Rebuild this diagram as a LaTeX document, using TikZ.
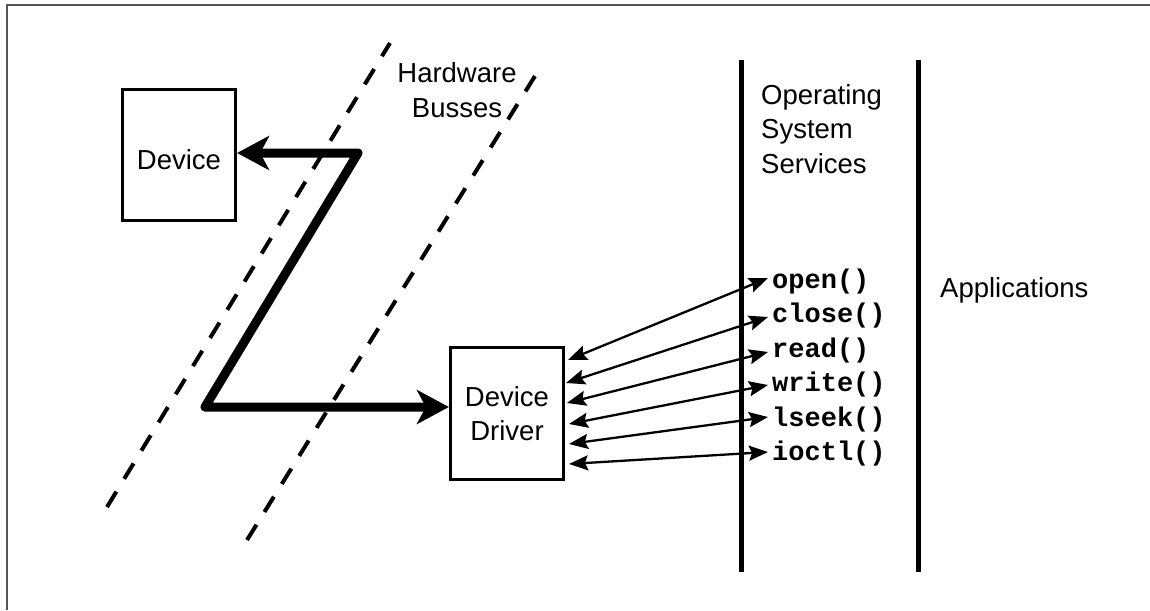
\documentclass[tikz,border=0pt]{standalone}
\usepackage{fontspec}
\setmainfont{Liberation Sans}
\newfontfamily\codefont{Liberation Mono}
\usetikzlibrary{arrows.meta}
\definecolor{framegray}{HTML}{555555}
\begin{document}
\begin{tikzpicture}[x=1pt,y=-1pt,
  box/.style={draw, line width=3.2pt, minimum width=113pt, minimum height=131pt, inner sep=0pt},
  txt/.style={font=\fontsize{27.5}{34.5}\selectfont, inner sep=0pt, align=left},
  code/.style={font=\codefont\bfseries\fontsize{27}{34}\selectfont, inner sep=0pt, anchor=base west},
  bus/.style={line width=4pt, dash pattern=on 18pt off 15pt},
  wall/.style={line width=5pt},
  bigarrow/.style={line width=9pt, line join=round, {Stealth[length=32pt,width=34pt,inset=9pt]}-{Stealth[length=32pt,width=34pt,inset=9pt]}},
  call/.style={line width=2.3pt, {Stealth[length=19pt,width=15pt,inset=3pt]}-{Stealth[length=19pt,width=15pt,inset=3pt]}}
]
\useasboundingbox (0,0) rectangle (1150,610);
% frame
\draw[framegray, line width=2pt] (7,610) -- (7,5.5) -- (1150,5.5);

% boxes
\node[box] (dev) at (179,155) {};
\node[txt] (devtxt) at (179,160) {Device};
\node[box, minimum height=132pt, txt, align=center, inner sep=0pt, draw, line width=3.2pt] (drv) at (507,413.5) {Device\\Driver};

% hardware busses
\coordinate (b1s) at (107,507);
\coordinate (b1e) at (390,43);
\coordinate (b2s) at (247,540);
\coordinate (b2e) at (535,76);
\draw[bus] (b1s) -- (b1e);
\draw[bus] (b2s) -- (b2e);
\node[txt, align=center] (hw) at (457,90) {Hardware\\Busses};

% thick Z arrow
\coordinate (c1) at (358,153);
\coordinate (c2) at (205,407);
\draw[bigarrow] (dev.east |- c1) -- (c1) -- (c2) -- (drv.west |- c2);

% OS walls
\coordinate (w1t) at (741,60);
\coordinate (w1b) at (741,572);
\coordinate (w2t) at (918,60);
\coordinate (w2b) at (918,572);
\draw[wall] (w1t) -- (w1b);
\draw[wall] (w2t) -- (w2b);
\node[txt, anchor=north west] (oss) at (761,84) {Operating\\System\\Services};
\node[txt, anchor=west] (apps) at (940,290) {Applications};

% system calls
\node[code] (open)  at (772,288) {open()};
\node[code] (close) at (772,322) {close()};
\node[code] (read)  at (772,357) {read()};
\node[code] (write) at (772,391) {write()};
\node[code] (lseek) at (772,426) {lseek()};
\node[code] (ioctl) at (772,460) {ioctl()};

\coordinate (d1) at (568,360);
\coordinate (d2) at (566,383);
\coordinate (d3) at (567,403);
\coordinate (d4) at (569,424);
\coordinate (d5) at (569,444);
\coordinate (d6) at (569,464);

\draw[call] (d1) -- ([xshift=-4pt,yshift=10pt]open.base west);
\draw[call] (d2) -- ([xshift=-4pt,yshift=5pt]close.base west);
\draw[call] (d3) -- ([xshift=-4pt,yshift=5pt]read.base west);
\draw[call] (d4) -- ([xshift=-4pt,yshift=6pt]write.base west);
\draw[call] (d5) -- ([xshift=-4pt,yshift=9pt]lseek.base west);
\draw[call] (d6) -- ([xshift=-4pt,yshift=8pt]ioctl.base west);
\end{tikzpicture}
\end{document}
